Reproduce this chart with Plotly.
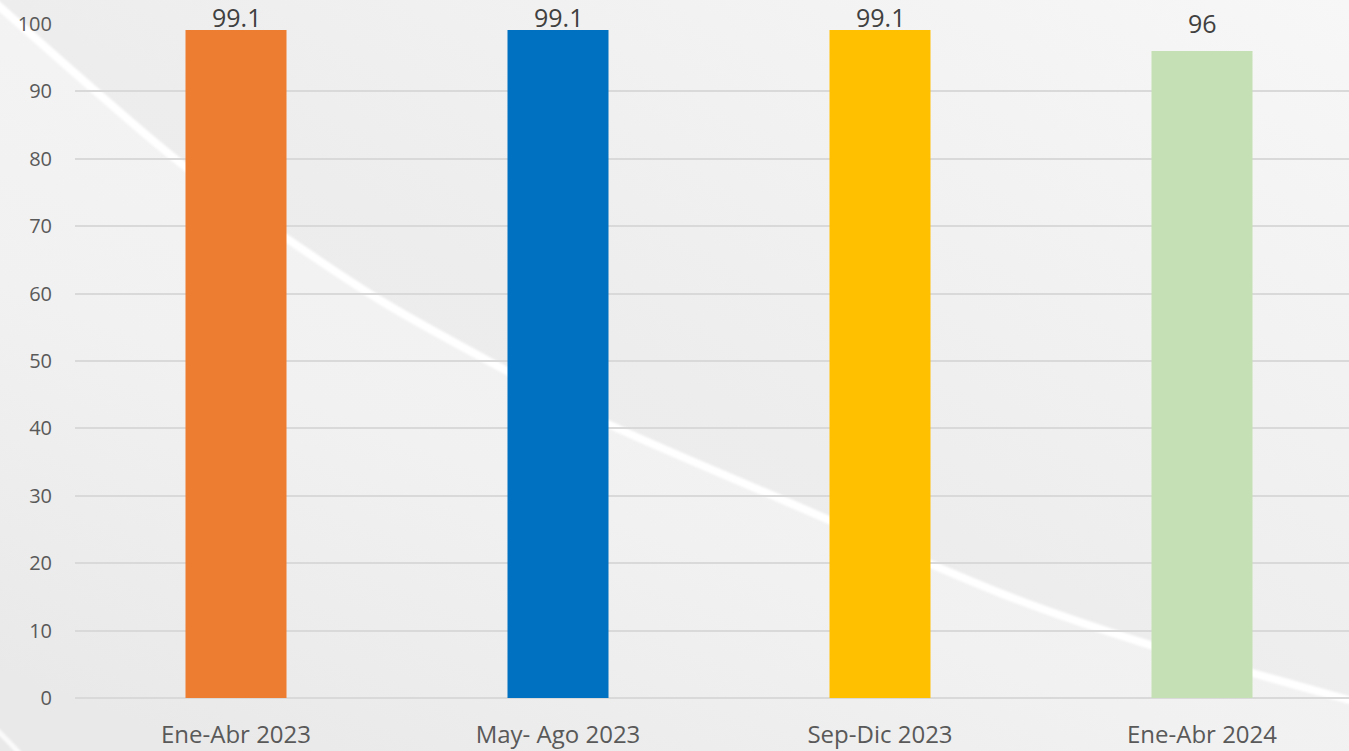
import base64
import plotly.graph_objects as go

categories = ["Ene-Abr 2023", "May- Ago 2023", "Sep-Dic 2023", "Ene-Abr 2024"]
values = [99.1, 99.1, 99.1, 96]
value_labels = ["99.1", "99.1", "99.1", "96"]
colors = ["#ED7D31", "#0070C0", "#FFC000", "#C5E0B4"]
y_ticks = [0, 10, 20, 30, 40, 50, 60, 70, 80, 90, 100]

W, H = 1349, 751
ML, MR, MT, MB = 75, 0, 24, 53
PW, PH = W - ML - MR, H - MT - MB
PX_PER_UNIT = PH / 100.0


def px2paper(px, py):
    return (px - ML) / PW, (H - MB - py) / PH


# ---- decorative background (swoosh) as an SVG image ----
curve = [(-12, -4), (0, 7), (100, 95), (187, 168), (286, 238), (383, 302), (507, 371),
         (608, 424), (783, 500), (1000, 593), (1150, 645), (1252, 673), (1349, 700), (1380, 708)]


def smooth_path(p):
    d = f"M {p[0][0]},{p[0][1]}"
    for i in range(len(p) - 1):
        p0 = p[i - 1] if i > 0 else p[i]
        p1, p2 = p[i], p[i + 1]
        p3 = p[i + 2] if i + 2 < len(p) else p2
        c1 = (p1[0] + (p2[0] - p0[0]) / 6, p1[1] + (p2[1] - p0[1]) / 6)
        c2 = (p2[0] - (p3[0] - p1[0]) / 6, p2[1] - (p3[1] - p1[1]) / 6)
        d += f" C {c1[0]:.1f},{c1[1]:.1f} {c2[0]:.1f},{c2[1]:.1f} {p2[0]},{p2[1]}"
    return d


cpath = smooth_path(curve)
svg = f'''<svg xmlns="http://www.w3.org/2000/svg" width="{W}" height="{H}" viewBox="0 0 {W} {H}">
<defs>
<linearGradient id="up" x1="0" y1="1" x2="1" y2="0">
<stop offset="0" stop-color="#e9e9e9"/><stop offset="0.5" stop-color="#ededed"/><stop offset="1" stop-color="#f7f7f7"/>
</linearGradient>
<linearGradient id="low" x1="0.75" y1="0.25" x2="0.25" y2="1">
<stop offset="0" stop-color="#f5f5f5"/><stop offset="0.55" stop-color="#f1f1f1"/><stop offset="1" stop-color="#e9e9e9"/>
</linearGradient>
<filter id="bl" x="-10%" y="-10%" width="120%" height="120%"><feGaussianBlur stdDeviation="0.8"/></filter>
</defs>
<rect x="0" y="0" width="{W}" height="{H}" fill="url(#up)"/>
<path d="{cpath} L 1380,800 L -20,800 Z" fill="url(#low)"/>
<path d="{cpath}" fill="none" stroke="#ffffff" stroke-width="8" filter="url(#bl)"/>
<path d="M -5,728 C 5,738 12,745 22,756" fill="none" stroke="#ffffff" stroke-width="5" filter="url(#bl)" opacity="0.8"/>
</svg>'''
svg_uri = "data:image/svg+xml;base64," + base64.b64encode(svg.encode()).decode()

fig = go.Figure()
fig.add_trace(go.Bar(
    x=categories, y=values, marker=dict(color=colors, line=dict(width=0)),
    width=101 / 322, hoverinfo="x+y", showlegend=False, cliponaxis=False,
))

# data labels (pushed down to stay inside the chart near the top, like the original)
for c, v, t in zip(categories, values, value_labels):
    fig.add_annotation(x=c, y=min(v + 9 / PX_PER_UNIT, 98.2), text=t, showarrow=False,
                       yanchor="bottom", font=dict(family="Open Sans", size=25, color="#404040"))

x0p, y0p = px2paper(0, 0)
fig.add_layout_image(dict(source=svg_uri, xref="paper", yref="paper", x=x0p, y=y0p,
                          sizex=W / PW, sizey=H / PH, sizing="stretch",
                          xanchor="left", yanchor="top", layer="below"))

fig.update_layout(
    width=W, height=H,
    margin=dict(l=ML, r=MR, t=MT, b=MB, pad=0),
    paper_bgcolor="#eeeeee", plot_bgcolor="rgba(0,0,0,0)",
    font=dict(family="Open Sans", color="#595959"),
    xaxis=dict(range=[-0.5, -0.5 + PW / 322], showgrid=False, zeroline=False,
               showline=False, ticks="", tickfont=dict(size=24, color="#595959"),
               ticklabelstandoff=20, fixedrange=True),
    yaxis=dict(range=[0, 100], tickvals=y_ticks, showgrid=True, gridcolor="#d9d9d9",
               gridwidth=1.5, zeroline=True, zerolinecolor="#d9d9d9", zerolinewidth=1.5,
               showline=False, ticks="", ticklen=0, tickfont=dict(size=20, color="#595959"),
               ticklabelstandoff=22, fixedrange=True),
)

fig.write_html("out.html", config={"displayModeBar": False},
               post_script="document.body.style.margin='0px';document.body.style.padding='0px';"
                           "document.body.style.overflow='hidden';")
